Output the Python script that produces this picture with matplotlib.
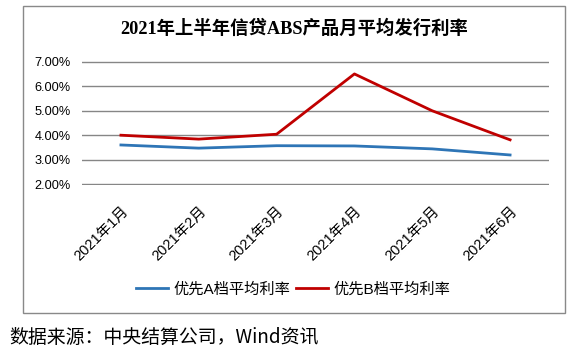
import matplotlib
matplotlib.use("Agg")
import matplotlib.pyplot as plt
from matplotlib.patches import Rectangle
from matplotlib.ticker import FuncFormatter

months = ["2021年1月", "2021年2月", "2021年3月", "2021年4月", "2021年5月", "2021年6月"]
rate_a = [3.60, 3.47, 3.57, 3.56, 3.44, 3.19]
rate_b = [4.00, 3.84, 4.04, 6.51, 5.00, 3.81]
series_names = ["优先A档平均利率", "优先B档平均利率"]
title = "2021年上半年信贷ABS产品月平均发行利率"
source = "数据来源：中央结算公司，Wind资讯"
y_ticks = [2, 3, 4, 5, 6, 7]

plt.rcParams['font.family'] = ['Liberation Sans', 'Noto Sans CJK SC', 'DejaVu Sans']

W, H = 587, 351
fig = plt.figure(figsize=(W / 100, H / 100), dpi=100)

def px(x0, y0, x1, y1):
    return [x0 / W, 1 - y1 / H, (x1 - x0) / W, (y1 - y0) / H]

# outer chart frame
fig.patches.append(Rectangle((23 / W, 1 - 313 / H), 542 / W, 307 / H,
                             transform=fig.transFigure, fill=False,
                             edgecolor="#898989", linewidth=1.0))

ax = fig.add_axes(px(82, 61, 549, 185))
x = list(range(len(months)))
l1, = ax.plot(x, rate_a, color="#2E75B6", linewidth=2.0, label=series_names[0])
l2, = ax.plot(x, rate_b, color="#C00000", linewidth=2.0, label=series_names[1])

ax.set_xlim(-0.5, len(months) - 0.5)
ax.set_ylim(1.96, 7.04)
ax.set_yticks(y_ticks)
ax.yaxis.set_major_formatter(FuncFormatter(lambda v, p: f"{v:.2f}%"))
ax.grid(axis="y", color="#868686", linewidth=1.0)
ax.set_axisbelow(True)
for s in ax.spines.values():
    s.set_visible(False)
ax.tick_params(axis="y", length=0, labelsize=9.2, colors="#000000", pad=8)
ax.set_xticks(x)
ax.set_xticklabels(months, rotation=45, ha="right", va="top", rotation_mode="anchor")
ax.tick_params(axis="x", length=0, labelsize=10.5, colors="#000000", pad=14)

fig.text(294 / W, 1 - 29 / H, title, ha="center", va="center", fontsize=13.2,
         fontweight="bold", family=["Liberation Serif", "Noto Sans CJK SC"])

fig.legend(handles=[l1, l2], labels=series_names, loc="center",
           bbox_to_anchor=(293 / W, 1 - 289 / H), ncol=2, frameon=False,
           fontsize=11, handlelength=2.1, handletextpad=0.35, columnspacing=0.35)

fig.text(9 / W, 1 - 337 / H, source, ha="left", va="center", fontsize=13.6,
         family=["Noto Sans CJK SC", "DejaVu Sans"], color="#000000")

fig.savefig("out.png", dpi=100)
